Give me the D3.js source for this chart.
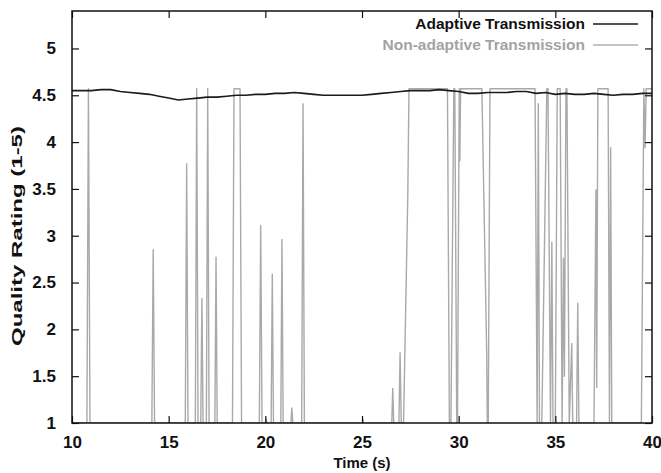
<!DOCTYPE html>
<html>
<head>
  <meta charset="utf-8">
  <title>Adaptive vs Non-adaptive Transmission</title>
  <script src="https://d3js.org/d3.v7.min.js"></script>
  <style>
    body {
      margin: 0;
      background-color: white;
    }

    text {
      font-family: 'Liberation Sans', Arial, Helvetica, sans-serif;
      font-weight: bold;
    }

    .tick-label {
      font-size: 17px;
      fill: #111;
    }

    .axis-title {
      font-size: 15px;
      fill: #111;
    }

    .legend-text {
      font-size: 15.5px;
    }
  </style>
</head>
<body>
  <svg id="chart"></svg>

  <script>
    var width = 661;
    var height = 473;
    var margin = { top: 11, right: 9, bottom: 50, left: 72 };

    // axis ticks
    const timeTicks = [10, 15, 20, 25, 30, 35, 40];
    const ratingTicks = [1, 1.5, 2, 2.5, 3, 3.5, 4, 4.5, 5];

    // adaptive transmission (black)
    const adaptiveTime = [10, 10.5, 11, 11.5, 12, 12.5, 13, 13.5, 14, 14.5, 15, 15.5, 16, 16.5, 17, 17.5, 18, 18.5,
      19, 19.5, 20, 20.5, 21, 21.5, 22, 22.5, 23, 23.5, 24, 24.5, 25, 25.5, 26, 26.5, 27, 27.5, 28, 28.5, 29, 29.5,
      30, 30.5, 31, 31.5, 32, 32.5, 33, 33.5, 34, 34.5, 35, 35.5, 36, 36.5, 37, 37.5, 38, 38.5, 39, 39.5, 40];
    const adaptiveRating = [4.55, 4.55, 4.55, 4.56, 4.56, 4.54, 4.53, 4.52, 4.51, 4.49, 4.47, 4.45, 4.46, 4.47, 4.48,
      4.48, 4.49, 4.5, 4.5, 4.51, 4.51, 4.52, 4.52, 4.53, 4.52, 4.51, 4.5, 4.5, 4.5, 4.5, 4.5, 4.51, 4.52, 4.53, 4.54,
      4.55, 4.55, 4.55, 4.56, 4.55, 4.54, 4.52, 4.52, 4.53, 4.53, 4.53, 4.54, 4.54, 4.52, 4.53, 4.51, 4.52, 4.51,
      4.51, 4.52, 4.51, 4.5, 4.51, 4.51, 4.52, 4.52];

    // non-adaptive transmission (gray)
    const nonAdaptiveTime = [10, 10.77, 10.85, 10.93, 14.13, 14.2, 14.27, 15.86, 15.93, 16.0, 16.38, 16.45, 16.52,
      16.66, 16.72, 16.78, 16.95, 17.02, 17.09, 17.39, 17.45, 17.51, 18.3, 18.38, 18.69, 18.77, 19.69, 19.76, 19.83,
      20.0, 20.04, 20.08, 20.3, 20.36, 20.42, 20.8, 20.86, 20.92, 21.32, 21.37, 21.42, 21.88, 21.95, 22.02, 25.02,
      25.05, 25.08, 26.54, 26.59, 26.64, 26.91, 26.97, 27.03, 27.15, 27.37, 27.43, 29.42, 29.52, 29.6, 29.75, 29.8,
      29.9, 29.94, 30.03, 30.06, 30.1, 31.2, 31.45, 31.48, 31.53, 31.62, 33.95, 34.06, 34.12, 34.18, 34.3, 34.56,
      34.62, 34.75, 34.82, 34.88, 35.0, 35.1, 35.25, 35.35, 35.42, 35.47, 35.55, 35.6, 35.72, 35.85, 35.9, 36.1,
      36.16, 36.22, 37.0, 37.1, 37.14, 37.2, 37.73, 37.8, 37.86, 37.92, 39.45, 39.58, 39.64, 39.7, 40];
    const nonAdaptiveRating = [1, 1, 4.57, 1, 1, 2.85, 1, 1, 3.77, 1, 1, 4.57, 1,
      1, 2.33, 1, 1, 4.57, 1, 1, 2.77, 1, 1, 4.57, 4.57, 1, 1, 3.11, 1,
      1, 1.04, 1, 1, 2.59, 1, 1, 2.96, 1, 1, 1.16, 1, 1, 4.41, 1, 1,
      1.04, 1, 1, 1.37, 1, 1, 1.75, 1, 1, 3.45, 4.57, 4.57, 1, 1, 4.57, 4.57,
      1, 1, 4.57, 3.8, 4.57, 4.57, 1.75, 1, 1, 4.57, 4.57, 1, 4.41, 1, 1, 4.57,
      4.57, 1, 2.93, 1, 1, 4.57, 4.57, 1, 2.76, 1.5, 4.57, 4.57, 1, 1.85, 1, 1,
      2.28, 1, 1, 3.49, 1.38, 4.57, 4.57, 1, 3.94, 1, 1, 4.57, 3.94, 4.57, 4.57];

    const adaptive = adaptiveTime.map((t, i) => [t, adaptiveRating[i]]);
    const nonAdaptive = nonAdaptiveTime.map((t, i) => [t, nonAdaptiveRating[i]]);

    var svg = d3.select("#chart").attr("width", width).attr("height", height);

    var x = d3.scaleLinear().domain([10, 40]).range([margin.left, width - margin.right]);
    var y = d3.scaleLinear().domain([1, 5.4]).range([height - margin.bottom, margin.top]);

    svg.append("clipPath").attr("id", "plot-clip")
      .append("rect")
      .attr("x", margin.left).attr("y", margin.top)
      .attr("width", width - margin.left - margin.right)
      .attr("height", height - margin.top - margin.bottom);

    var line = d3.line().x(d => x(d[0])).y(d => y(d[1]));

    var plot = svg.append("g").attr("clip-path", "url(#plot-clip)");

    plot.append("path")
      .datum(nonAdaptive)
      .attr("fill", "none")
      .attr("stroke", "#a9a9a9")
      .attr("stroke-width", 1.4)
      .attr("stroke-linejoin", "round")
      .attr("d", line);

    plot.append("path")
      .datum(adaptive)
      .attr("fill", "none")
      .attr("stroke", "#1a1a1a")
      .attr("stroke-width", 1.6)
      .attr("d", line);

    // axes, gnuplot style: ticks inside, mirrored on all sides
    var tickLen = 7;
    var bottomAxis = d3.axisBottom(x).tickValues(timeTicks).tickSize(-tickLen).tickPadding(tickLen + 6).tickFormat(d3.format("d"));
    var topAxis = d3.axisTop(x).tickValues(timeTicks).tickSize(-tickLen).tickFormat("");
    var leftAxis = d3.axisLeft(y).tickValues(ratingTicks).tickSize(-tickLen).tickPadding(tickLen + 9).tickFormat(d => d);
    var rightAxis = d3.axisRight(y).tickValues(ratingTicks).tickSize(-tickLen).tickFormat("");

    function styleAxis(g) {
      g.select(".domain").remove();
      g.selectAll(".tick line").attr("stroke", "#111").attr("stroke-width", 1.2);
      g.selectAll(".tick text").attr("class", "tick-label").attr("font-family", null).attr("font-size", null);
    }

    svg.append("g").attr("transform", `translate(0,${height - margin.bottom})`).call(bottomAxis).call(styleAxis);
    svg.append("g").attr("transform", `translate(0,${margin.top})`).call(topAxis).call(styleAxis);
    svg.append("g").attr("transform", `translate(${margin.left},0)`).call(leftAxis).call(styleAxis);
    svg.append("g").attr("transform", `translate(${width - margin.right},0)`).call(rightAxis).call(styleAxis);

    svg.append("rect")
      .attr("x", margin.left).attr("y", margin.top)
      .attr("width", width - margin.left - margin.right)
      .attr("height", height - margin.top - margin.bottom)
      .attr("fill", "none")
      .attr("stroke", "#111")
      .attr("stroke-width", 1.5);

    // axis titles
    svg.append("text")
      .attr("class", "axis-title")
      .attr("x", 362)
      .attr("y", height - 5)
      .attr("text-anchor", "middle")
      .text("Time (s)");

    // the y title in the picture is drawn wide along its length
    svg.append("text")
      .attr("class", "axis-title")
      .attr("transform", `translate(22,236) rotate(-90) scale(1.6,1)`)
      .attr("text-anchor", "middle")
      .text("Quality Rating (1-5)");

    // legend
    const legendItems = [
      { label: "Adaptive Transmission", color: "#1a1a1a", text: "#111", width: 1.6 },
      { label: "Non-adaptive Transmission", color: "#b0b0b0", text: "#a3a3a3", width: 1.4 }
    ];

    var legend = svg.append("g")
      .selectAll("g")
      .data(legendItems)
      .enter().append("g")
      .attr("transform", (d, i) => `translate(0,${24 + i * 21})`);

    legend.append("text")
      .attr("class", "legend-text")
      .attr("x", 585)
      .attr("y", 5)
      .attr("text-anchor", "end")
      .attr("fill", d => d.text)
      .text(d => d.label);

    legend.append("line")
      .attr("x1", 593).attr("x2", 638)
      .attr("y1", 0).attr("y2", 0)
      .attr("stroke", d => d.color)
      .attr("stroke-width", d => d.width);
  </script>
</body>
</html>
